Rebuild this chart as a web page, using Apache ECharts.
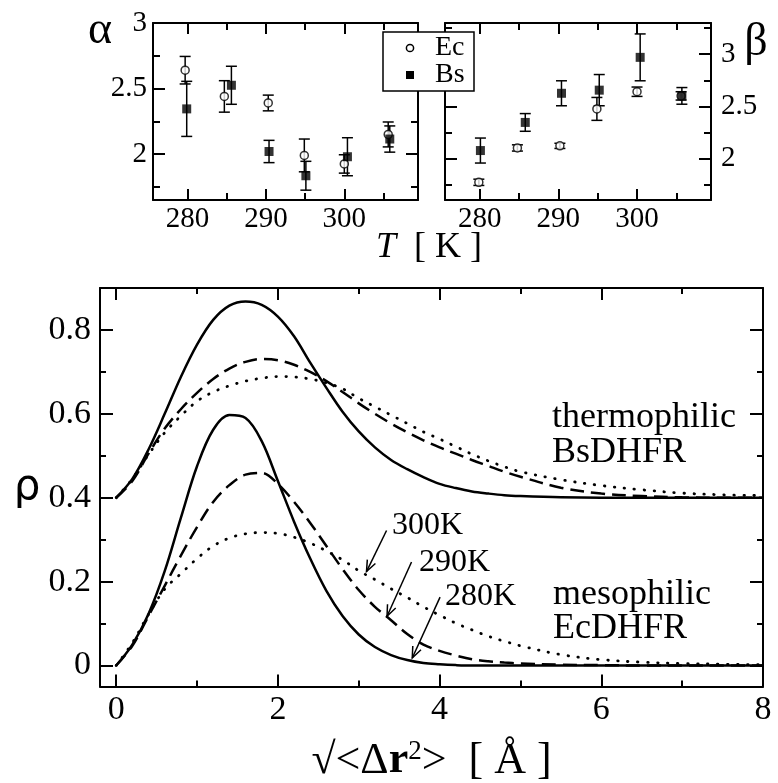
<!DOCTYPE html>
<html><head><meta charset="utf-8">
<script src="https://cdn.jsdelivr.net/npm/echarts@6/dist/echarts.min.js"></script>
<style>html,body{margin:0;padding:0;background:#fff}#c{width:778px;height:783px}</style>
</head><body><div id="c"></div>
<script>
const FONT = "'Liberation Serif', 'Times New Roman', serif";

// ---- top panels: fitted exponents vs temperature ----
const tempMajor = [280, 290, 300];
const tempMinor = [285, 295, 305];
const alphaMajor = [2, 2.5, 3];
const alphaMinor = [1.75, 2.25, 2.75];
const betaMajor = [2, 2.5, 3];
const betaMinor = [1.75, 2.25, 2.75, 3.25];

const alphaEcT   = [279.7, 284.7, 290.3, 294.9, 300.0, 305.6];
const alphaEcVal = [2.64, 2.44, 2.39, 1.99, 1.925, 2.15];
const alphaEcErr = [0.105, 0.12, 0.06, 0.125, 0.07, 0.095];
const alphaBsT   = [279.9, 285.6, 290.4, 295.1, 300.4, 305.8];
const alphaBsVal = [2.345, 2.525, 2.02, 1.835, 1.98, 2.115];
const alphaBsErr = [0.21, 0.145, 0.085, 0.11, 0.145, 0.1];

const betaEcT   = [279.9, 284.8, 290.2, 294.9, 300.0, 305.6];
const betaEcVal = [1.77, 2.10, 2.12, 2.475, 2.64, 2.60];
const betaEcErr = [0.03, 0.03, 0.025, 0.11, 0.045, 0.04];
const betaBsT   = [280.1, 285.8, 290.4, 295.2, 300.4, 305.7];
const betaBsVal = [2.075, 2.345, 2.625, 2.655, 2.97, 2.60];
const betaBsErr = [0.12, 0.085, 0.12, 0.15, 0.225, 0.08];

const legendNames = ['Ec', 'Bs'];

// ---- bottom panel: distributions rho(sqrt<dr^2>) ----
const rMajor = [0, 2, 4, 6, 8];
const rMinor = [1, 3, 5, 7];
const rhoMajor = [0, 0.2, 0.4, 0.6, 0.8];
const rhoMinor = [0.1, 0.3, 0.5, 0.7];

const rGrid = [0,0.2,0.4,0.6,0.8,1.0,1.2,1.4,1.6,1.8,2.0,2.2,2.4,2.6,2.8,3.0,3.2,3.4,3.6,3.8,4.0,4.2,4.4,4.6,4.8,5.0,5.5,6.0,6.5,7.0,7.5,8.0];
// mesophilic EcDHFR
const ec280 = [0,0.05,0.123,0.225,0.352,0.475,0.562,0.597,0.59,0.535,0.44,0.343,0.255,0.178,0.118,0.074,0.044,0.025,0.013,0.006,0.003,0.001,0,0,0,0,0,0,0,0,0,0];
const ec290 = [0,0.047,0.118,0.19,0.262,0.33,0.39,0.43,0.455,0.459,0.433,0.39,0.34,0.285,0.23,0.18,0.14,0.108,0.075,0.05,0.035,0.024,0.015,0.01,0.007,0.005,0.002,0.001,0,0,0,0];
const ec300 = [0,0.054,0.122,0.182,0.219,0.255,0.285,0.304,0.314,0.317,0.315,0.306,0.292,0.273,0.252,0.226,0.205,0.183,0.162,0.14,0.12,0.101,0.085,0.07,0.058,0.047,0.026,0.014,0.008,0.005,0.003,0.002];
// thermophilic BsDHFR (shifted by 0.4)
const bs280 = [0.4,0.445,0.515,0.6,0.688,0.765,0.824,0.858,0.868,0.86,0.832,0.785,0.722,0.662,0.605,0.558,0.52,0.49,0.468,0.449,0.433,0.423,0.415,0.41,0.406,0.404,0.401,0.4,0.4,0.4,0.4,0.4];
const bs290 = [0.4,0.44,0.505,0.565,0.611,0.65,0.683,0.708,0.724,0.731,0.728,0.717,0.7,0.678,0.652,0.625,0.6,0.577,0.556,0.537,0.52,0.505,0.49,0.476,0.462,0.45,0.424,0.41,0.404,0.401,0.4,0.4];
const bs300 = [0.4,0.445,0.503,0.555,0.595,0.63,0.652,0.667,0.678,0.685,0.689,0.688,0.683,0.674,0.66,0.637,0.617,0.597,0.577,0.557,0.54,0.522,0.504,0.488,0.474,0.462,0.443,0.429,0.419,0.411,0.407,0.405];

// annotation arrows (data coords of bottom panel): tail -> head
const arrowLabels = ['300K', '290K', '280K'];
const arrowTail = [[3.344, 0.322], [3.653, 0.2467], [4.006, 0.163]];
const arrowHead = [[3.096, 0.224], [3.35, 0.1175], [3.662, 0.018]];

// ---------------------------------------------------------------
const BLACK = '#000';
function axes(dim, grid, min, max, major, minor, mainPos, label, majorLen, minorLen) {
  const opp = {bottom:'top', top:'bottom', left:'right', right:'left'}[mainPos];
  const base = {type:'value', gridIndex:grid, min:min, max:max, splitLine:{show:false}};
  const line = {show:true, onZero:false, lineStyle:{color:BLACK, width:2}};
  const noLine = {show:false, onZero:false};
  const tick = (vals, len) => ({show:true, inside:true, length:len, customValues:vals, lineStyle:{color:BLACK, width:2}});
  return [
    Object.assign({}, base, {position:mainPos, axisLine:line, axisTick:tick(major, majorLen),
      axisLabel:Object.assign({show:true, customValues:major, color:BLACK, fontFamily:FONT}, label)}),
    Object.assign({}, base, {position:opp, axisLine:line, axisTick:tick(major, majorLen), axisLabel:{show:false}}),
    Object.assign({}, base, {position:mainPos, axisLine:noLine, axisTick:tick(minor, minorLen), axisLabel:{show:false}}),
    Object.assign({}, base, {position:opp, axisLine:noLine, axisTick:tick(minor, minorLen), axisLabel:{show:false}})
  ];
}

const xAxis = [].concat(
  axes('x', 0, 275.6, 309.4, tempMajor, tempMinor, 'bottom', {fontSize:29, margin:5}, 11, 7),
  axes('x', 1, 275.6, 309.4, tempMajor, tempMinor, 'bottom', {fontSize:29, margin:5}, 11, 7),
  axes('x', 2, -0.2, 8, rMajor, rMinor, 'bottom', {fontSize:34, margin:7}, 12, 6)
);
const yAxis = [].concat(
  axes('y', 0, 1.65, 3, alphaMajor, alphaMinor, 'left', {fontSize:29, margin:6}, 12, 7),
  axes('y', 1, 1.6, 3.3, betaMajor, betaMinor, 'right', {fontSize:29, margin:10}, 12, 7),
  axes('y', 2, -0.05, 0.9, rhoMajor, rhoMinor, 'left', {fontSize:34, margin:9}, 13, 6)
);
// bottom x-axis title
xAxis[8].name = '{n|√<Δ}{b|r}{s|2}{n|>  [ Å ]}';
xAxis[8].nameLocation = 'middle';
xAxis[8].nameGap = 52;
xAxis[8].nameTextStyle = {color:BLACK, fontFamily:FONT, rich:{
  n:{fontSize:44, fontFamily:FONT, color:BLACK},
  b:{fontSize:44, fontFamily:FONT, fontWeight:'bold', color:BLACK},
  s:{fontSize:27, fontFamily:FONT, color:BLACK, padding:[0,0,18,0]}
}};

function errRender(params, api) {
  const x = api.value(0), y = api.value(1), e = api.value(2);
  const t = api.coord([x, y + e]), b = api.coord([x, y - e]);
  const hw = 5.5, st = {stroke:BLACK, lineWidth:1.5};
  return {type:'group', children:[
    {type:'line', shape:{x1:t[0], y1:t[1], x2:b[0], y2:b[1]}, style:st},
    {type:'line', shape:{x1:t[0]-hw, y1:t[1], x2:t[0]+hw, y2:t[1]}, style:st},
    {type:'line', shape:{x1:b[0]-hw, y1:b[1], x2:b[0]+hw, y2:b[1]}, style:st}
  ]};
}
function errSeries(ts, vals, errs, ax, ay) {
  return {type:'custom', xAxisIndex:ax, yAxisIndex:ay, renderItem:errRender, silent:true, z:2,
    encode:{x:0, y:1}, data:ts.map((t,i)=>[t, vals[i], errs[i]])};
}
const ecStyle = {color:'#fff', borderColor:BLACK, borderWidth:1.5};
const bsStyle = {color:BLACK, borderColor:BLACK, borderWidth:0};
function pts(name, ts, vals, ax, ay) {
  const ec = name === 'Ec';
  return {type:'scatter', name:name, xAxisIndex:ax, yAxisIndex:ay, z:5, silent:true,
    symbol: ec ? 'circle' : 'rect', symbolSize: ec ? 8 : 9,
    itemStyle: ec ? ecStyle : bsStyle,
    data:ts.map((t,i)=>[t, vals[i]])};
}
function curve(vals, dash) {
  return {type:'line', xAxisIndex:8, yAxisIndex:8, showSymbol:false, symbol:'none', silent:true,
    smooth:0.35, z:3,
    lineStyle:{color:BLACK, width: dash === 'dot' ? 2.8 : 2.5,
      type: dash === 'solid' ? 'solid' : (dash === 'dash' ? [14, 7] : [0.5, 9.5]),
      cap: dash === 'dot' ? 'round' : 'butt'},
    data:rGrid.map((r,i)=>[r, vals[i]])};
}

const series = [
  errSeries(alphaEcT, alphaEcVal, alphaEcErr, 0, 0),
  errSeries(alphaBsT, alphaBsVal, alphaBsErr, 0, 0),
  pts('Ec', alphaEcT, alphaEcVal, 0, 0),
  pts('Bs', alphaBsT, alphaBsVal, 0, 0),
  errSeries(betaEcT, betaEcVal, betaEcErr, 4, 4),
  errSeries(betaBsT, betaBsVal, betaBsErr, 4, 4),
  pts('Ec', betaEcT, betaEcVal, 4, 4),
  pts('Bs', betaBsT, betaBsVal, 4, 4),
  curve(ec280, 'solid'), curve(ec290, 'dash'), curve(ec300, 'dot'),
  curve(bs280, 'solid'), curve(bs290, 'dash'), curve(bs300, 'dot')
];

function txt(text, x, y, size, align, extra) {
  return {type:'text', z:50, silent:true, style:Object.assign({text:text, x:x, y:y, fill:BLACK,
    font: size + 'px ' + FONT, fontSize:size, fontFamily:FONT,
    textAlign:align || 'left', align:align || 'left', textVerticalAlign:'middle', verticalAlign:'middle'}, extra || {})};
}

const option = {
  animation:false,
  backgroundColor:'#fff',
  grid:[
    {left:153, top:23, width:265, height:177, outerBoundsMode:'none'},
    {left:445, top:23, width:266, height:177, outerBoundsMode:'none'},
    {left:100, top:288, width:663, height:398.5, outerBoundsMode:'none'}
  ],
  xAxis:xAxis, yAxis:yAxis,
  series:series,
  graphic:[]
};

const chart = echarts.init(document.getElementById('c'), null, {renderer:'canvas'});
chart.setOption(option);

const g = [
  txt('α', 100, 31, 46, 'center'),
  txt('β', 756, 43, 46, 'center'),
  txt('ρ', 27, 488, 42, 'center', {fontFamily:"'DejaVu Sans', sans-serif", font:"40px 'DejaVu Sans', sans-serif"}),
  {type:'text', z:50, silent:true, style:{text:'{i|T}  [ K ]', x:429, y:248, fill:BLACK,
    font:'36px ' + FONT, fontSize:36, fontFamily:FONT, textAlign:'center', align:'center',
    textVerticalAlign:'middle', verticalAlign:'middle',
    rich:{i:{fontStyle:'italic', fontSize:36, fontFamily:FONT, fill:BLACK, color:BLACK}}}},
  txt('thermophilic', 552, 418, 36),
  txt('BsDHFR', 552, 453, 36),
  txt('mesophilic', 553, 595, 36),
  txt('EcDHFR', 553, 629, 36),
  txt(arrowLabels[0], 392, 526, 32),
  txt(arrowLabels[1], 419, 563, 32),
  txt(arrowLabels[2], 445, 597, 32),
  // legend box
  {type:'rect', z:45, silent:true, shape:{x:383, y:32, width:91, height:59},
    style:{fill:'#fff', stroke:BLACK, lineWidth:1.5}},
  {type:'circle', z:46, silent:true, shape:{cx:410, cy:48, r:3.6},
    style:{fill:'#fff', stroke:BLACK, lineWidth:1.5}},
  {type:'rect', z:46, silent:true, shape:{x:406, y:71, width:8, height:8}, style:{fill:BLACK}},
  Object.assign(txt(legendNames[0], 435, 48, 28), {z:46}),
  Object.assign(txt(legendNames[1], 435, 75, 28), {z:46})
];
for (let k = 0; k < arrowTail.length; k++) {
  const p = chart.convertToPixel({seriesIndex:8}, arrowTail[k]);
  const q = chart.convertToPixel({seriesIndex:8}, arrowHead[k]);
  const dx = q[0]-p[0], dy = q[1]-p[1], L = Math.hypot(dx, dy);
  const ux = dx/L, uy = dy/L, a = 22*Math.PI/180, len = 12;
  const arm = s => [q[0] - len*(ux*Math.cos(a) - s*uy*Math.sin(a)), q[1] - len*(uy*Math.cos(a) + s*ux*Math.sin(a))];
  g.push({type:'line', z:40, silent:true, shape:{x1:p[0], y1:p[1], x2:q[0], y2:q[1]}, style:{stroke:BLACK, lineWidth:1.5}});
  g.push({type:'polyline', z:40, silent:true, shape:{points:[arm(1), q, arm(-1)]}, style:{stroke:BLACK, lineWidth:1.5, fill:null}});
}
chart.setOption({graphic:g});
</script></body></html>
